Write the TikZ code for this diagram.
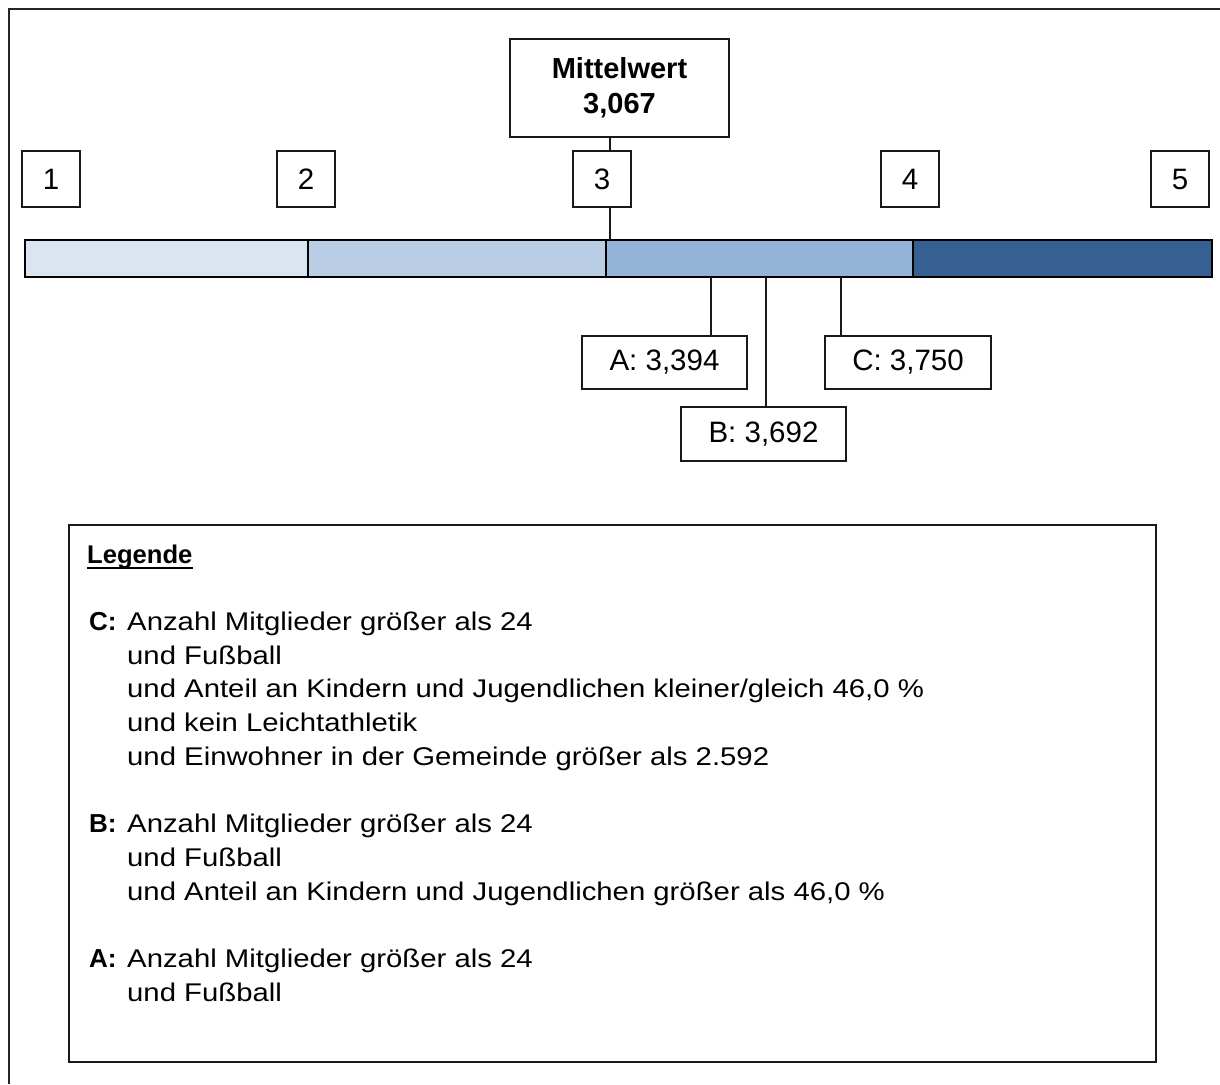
\documentclass[tikz,border=0pt]{standalone}
\usepackage{fontspec}
\setmainfont{Liberation Sans}
\newfontfamily\legreg[FakeStretch=1.145]{Liberation Sans}
\definecolor{segA}{HTML}{DBE5F1}
\definecolor{segB}{HTML}{B9CDE5}
\definecolor{segC}{HTML}{95B3D7}
\definecolor{segD}{HTML}{376092}
\begin{document}
\begin{tikzpicture}[x=1pt,y=-1pt,
  box/.style={draw=black!90,line width=1.2pt,inner sep=0pt,font=\fontsize{29.5}{35}\selectfont},
  seg/.style={draw=black,line width=2pt},
  conn/.style={draw=black!90,line width=1.3pt},
  legtxt/.style={anchor=base west,inner sep=0pt,font=\legreg\fontsize{25.6}{33.7}\selectfont},
  leglab/.style={anchor=base west,inner sep=0pt,font=\bfseries\fontsize{26}{33.7}\selectfont}]
\useasboundingbox (0,0) rectangle (1220,1084);
\fill[white] (0,0) rectangle (1220,1084);
\draw[line width=1.3pt,black!85] (9,1084) -- (9,9) -- (1220,9);

% scale boxes
\node[box,minimum width=58pt,minimum height=56pt] (n1) at (51,179) {1};
\node[box,minimum width=58pt,minimum height=56pt] (n2) at (306,179) {2};
\node[box,minimum width=58pt,minimum height=56pt] (n3) at (602,179) {3};
\node[box,minimum width=58pt,minimum height=56pt] (n4) at (910,179) {4};
\node[box,minimum width=58pt,minimum height=56pt] (n5) at (1180,179) {5};

% mean box
\node[box,minimum width=219pt,minimum height=98pt,align=center,font=\bfseries\fontsize{29}{35}\selectfont] (mw) at (619.5,88) {Mittelwert\\3,067};

% bar
\path[seg,fill=segA] (25,240) rectangle (308,277);
\path[seg,fill=segB] (308,240) rectangle (606,277);
\path[seg,fill=segC] (606,240) rectangle (913,277);
\path[seg,fill=segD] (913,240) rectangle (1212,277);

\coordinate (mean) at (610,240);
\coordinate (pA) at (711,277);
\coordinate (pB) at (766,277);
\coordinate (pC) at (841,277);

% value boxes
\node[box,minimum width=165pt,minimum height=53pt] (bA) at (664.5,362.5) {A: 3,394};
\node[box,minimum width=166pt,minimum height=53pt] (bC) at (908,362.5) {C: 3,750};
\node[box,minimum width=165pt,minimum height=54pt] (bB) at (763.5,434) {B: 3,692};

% connectors
\draw[conn] (mw.south -| mean) -- (n3.north -| mean);
\draw[conn] (n3.south -| mean) -- (mean);
\draw[conn] (pA) -- (bA.north -| pA);
\draw[conn] (pB) -- (bB.north -| pB);
\draw[conn] (pC) -- (bC.north -| pC);

% legend
\draw[line width=1.2pt,black!90] (69,525) rectangle (1156,1062);
\node[leglab,font=\bfseries\fontsize{25.6}{33.7}\selectfont] (legT) at (87,563) {Legende};
\draw[line width=2.4pt] ([yshift=-5pt]legT.base west) -- ([yshift=-5pt]legT.base east);

\node[leglab] (lC) at (89,630.4) {C:};
\node[legtxt] (c1) at (127,630.4) {Anzahl Mitglieder größer als 24};
\node[legtxt] (c2) at (127,664.1) {und Fußball};
\node[legtxt] (c3) at (127,697.8) {und Anteil an Kindern und Jugendlichen kleiner/gleich 46,0 \%};
\node[legtxt] (c4) at (127,731.5) {und kein Leichtathletik};
\node[legtxt] (c5) at (127,765.2) {und Einwohner in der Gemeinde größer als 2.592};

\node[leglab] (lB) at (89,832.6) {B:};
\node[legtxt] (b1) at (127,832.6) {Anzahl Mitglieder größer als 24};
\node[legtxt] (b2) at (127,866.3) {und Fußball};
\node[legtxt] (b3) at (127,900) {und Anteil an Kindern und Jugendlichen größer als 46,0 \%};

\node[leglab] (lA) at (89,967.4) {A:};
\node[legtxt] (a1) at (127,967.4) {Anzahl Mitglieder größer als 24};
\node[legtxt] (a2) at (127,1001.1) {und Fußball};
\end{tikzpicture}
\end{document}
